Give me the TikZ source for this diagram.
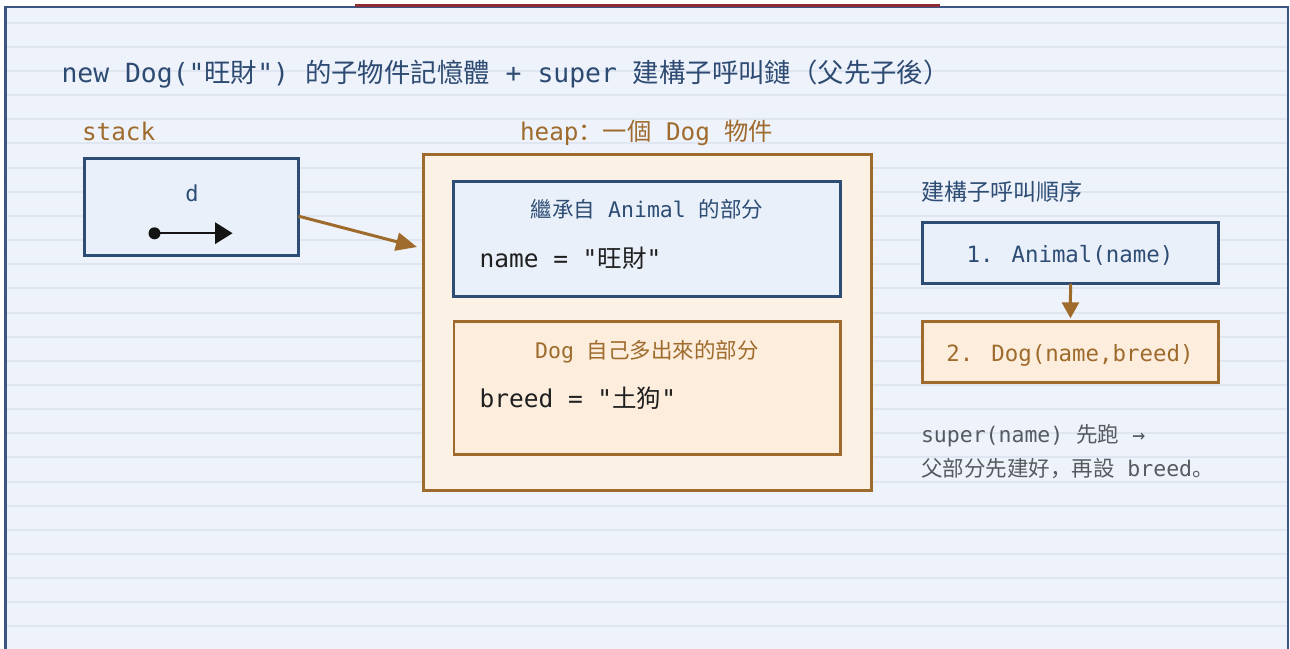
\documentclass[tikz,border=0pt]{standalone}
\usepackage{fontspec}
\usetikzlibrary{arrows.meta,calc}
\newfontfamily\cjk{Noto Sans CJK SC}
\newfontfamily\mono{DejaVu Sans Mono}
\definecolor{panelfill}{HTML}{EEF2FA}
\definecolor{ruleline}{HTML}{E0E6F1}
\definecolor{panelborder}{HTML}{3B5682}
\definecolor{darkred}{HTML}{8E2E34}
\definecolor{navy}{HTML}{2D4B72}
\definecolor{boxnavy}{HTML}{2E4D75}
\definecolor{brown}{HTML}{9E6B2C}
\definecolor{stackfill}{HTML}{E9F0FA}
\definecolor{heapfill}{HTML}{FBF2E5}
\definecolor{dogfill}{HTML}{FDEDDD}
\definecolor{notegray}{HTML}{555A60}
\tikzset{
  bluebox/.style={draw=boxnavy, fill=stackfill, line width=3pt, inner sep=0pt, outer sep=0pt, rectangle},
  brownbox/.style={draw=brown, fill=dogfill, line width=2.6pt, inner sep=0pt, outer sep=0pt, rectangle},
  heapbox/.style={draw=brown, fill=heapfill, line width=3pt, inner sep=0pt, outer sep=0pt, rectangle},
  txt/.style={inner sep=0pt, outer sep=0pt},
  conn/.style={draw=brown, line width=3pt},
}
\begin{document}
\begin{tikzpicture}[x=1pt,y=-1pt]
\useasboundingbox (0,0) rectangle (1290,648);
\clip (0,0) rectangle (1290,648);
% panel
\fill[white] (0,0) rectangle (1290,648);
\fill[panelfill] (5.3,7) rectangle (1288,680);
\foreach \k in {0,...,25}{
  \draw[ruleline, line width=2pt] (7,{22.7+24.15*\k}) -- (1287,{22.7+24.15*\k});
}
\draw[panelborder, line width=2.5pt] (5.3,7) rectangle (1288,680);
\draw[darkred, line width=2.2pt] (355,5.4) -- (940,5.4);

% title
\node[txt, anchor=base west, text=navy] (title) at (61.5,82)
  {\fontsize{26.4}{30}\selectfont\mono new Dog("{\cjk 旺財}") {\cjk 的子物件記憶體} + super {\cjk 建構子呼叫鏈（父先子後）}};

% stack
\node[txt, anchor=base west, text=brown] (stacklbl) at (82,140)
  {\fontsize{24.3}{28}\selectfont\mono stack};
\node[bluebox, minimum width=214.3pt, minimum height=96.7pt] (stack) at (191.35,207.15) {};
\node[txt, anchor=base, text=boxnavy] (dname) at (192,201)
  {\fontsize{22}{26}\selectfont\mono d};
\fill[black!92] (154.5,233.3) circle (6);
\draw[black!92, line width=1.6pt] (159,233.2) -- (216,233.2);
\fill[black!92] (215.2,222.3) -- (232.5,233.2) -- (215.2,244) -- cycle;

% heap
\node[txt, anchor=base west, text=brown] (heaplbl) at (520,140)
  {\fontsize{24.3}{28}\selectfont\mono heap{\cjk ：一個} Dog {\cjk 物件}};
\node[heapbox, minimum width=448.5pt, minimum height=336pt] (heap) at (647.25,322.5) {};
\node[bluebox, minimum width=386.4pt, minimum height=115.3pt] (animal) at (647,239.15) {};
\node[txt, anchor=base, text=boxnavy] (animaltitle) at (647,217)
  {\fontsize{21.5}{25}\selectfont\mono {\cjk 繼承自} Animal {\cjk 的部分}};
\node[txt, anchor=base west, text=black!88] (namefield) at (479.5,267)
  {\fontsize{24.5}{28}\selectfont\mono name = "{\cjk 旺財}"};
\node[brownbox, minimum width=386.4pt, minimum height=133pt] (dogpart) at (647,388) {};
\node[txt, anchor=base, text=brown] (dogtitle) at (647,358)
  {\fontsize{21.5}{25}\selectfont\mono Dog {\cjk 自己多出來的部分}};
\node[txt, anchor=base west, text=black!88] (breedfield) at (479.5,407)
  {\fontsize{24.5}{28}\selectfont\mono breed = "{\cjk 土狗}"};

% stack -> heap
\draw[conn, -{Triangle[length=21pt,width=18pt]}] ($(stack.east)+(0,9)$) -- ($(heap.west)+(-6,-75.5)$);

% constructor order
\node[txt, anchor=base west, text=boxnavy] (orderlbl) at (921.5,200.5)
  {\fontsize{23}{27}\selectfont\cjk 建構子呼叫順序};
\node[bluebox, minimum width=296pt, minimum height=61.3pt] (o1) at (1070.5,252.85) {};
\node[txt, anchor=base, text=boxnavy] (o1t) at (1070,262)
  {\fontsize{22.4}{26}\selectfont\mono 1. Animal(name)};
\node[brownbox, minimum width=296.5pt, minimum height=61.4pt] (o2) at (1070.45,352) {};
\node[txt, anchor=base, text=brown] (o2t) at (1070,361)
  {\fontsize{22.4}{26}\selectfont\mono 2. Dog(name,breed)};
\draw[conn, -{Triangle[length=16pt,width=17pt]}, shorten >=3pt] (o1.south) -- (o2.north);

% note
\node[txt, anchor=base west, text=notegray] (note1) at (921,442)
  {\fontsize{21.5}{25}\selectfont\mono super(name) {\cjk 先跑} →};
\node[txt, anchor=base west, text=notegray] (note2) at (921,476)
  {\fontsize{21.5}{25}\selectfont\mono {\cjk 父部分先建好，再設} breed{\cjk 。}};
\end{tikzpicture}
\end{document}
